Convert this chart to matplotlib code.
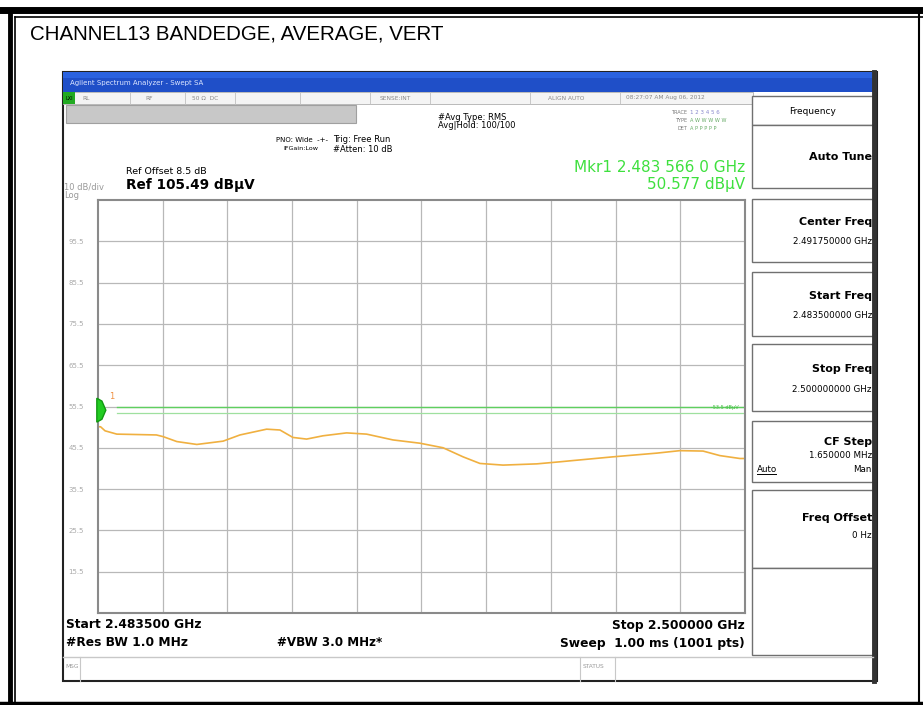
import matplotlib.pyplot as plt
from matplotlib.patches import Rectangle, Polygon

# trace (MHz, dBuV)
freq_mhz = [2483.50, 2483.566, 2483.68, 2483.98, 2484.50, 2484.99, 2485.16, 2485.51,
            2486.02, 2486.69, 2487.12, 2487.80, 2488.14, 2488.47, 2488.82, 2489.24,
            2489.84, 2490.35, 2491.02, 2491.71, 2492.30, 2492.81, 2493.24, 2493.83,
            2494.69, 2495.28, 2495.61, 2496.63, 2497.75, 2498.34, 2498.93, 2499.36,
            2499.87, 2500.00]
level_dbuv = [50.6, 50.577, 49.6, 48.8, 48.7, 48.6, 48.2, 47.0,
              46.3, 47.1, 48.6, 50.0, 49.8, 48.0, 47.6, 48.4,
              49.1, 48.8, 47.4, 46.6, 45.5, 43.3, 41.7, 41.3,
              41.6, 42.1, 42.4, 43.3, 44.2, 44.8, 44.7, 43.6,
              42.9, 42.9]

ref_level = 105.49
db_per_div = 10
start_mhz = 2483.5
stop_mhz = 2500.0
display_lines = [55.3, 54.0]
y_tick_labels = ["95.5", "85.5", "75.5", "65.5", "55.5", "45.5", "35.5", "25.5", "15.5"]

W, H = 923, 705
fig = plt.figure(figsize=(W / 100, H / 100), dpi=100)
plt.rcParams['font.family'] = ['DejaVu Sans']

# background axes in pixel coordinates
bg = fig.add_axes([0, 0, 1, 1])
bg.set_xlim(0, W)
bg.set_ylim(H, 0)
bg.axis('off')

# outer frame
bg.plot([0, W], [10, 10], color='black', lw=5)
bg.plot([10, 10], [10, 703], color='black', lw=3.5)
bg.plot([15, 15], [17, 703], color='black', lw=1.2)
bg.plot([15, W], [17, 17], color='black', lw=1.2)
bg.plot([0, W], [703, 703], color='black', lw=2.5)
bg.plot([919, 919], [10, 703], color='black', lw=1.5)

bg.text(30, 34, "CHANNEL13 BANDEDGE, AVERAGE, VERT", fontsize=14.8,
        family='Liberation Sans', va='center', ha='left')

# screenshot body
bg.add_patch(Rectangle((63, 72), 814, 609, facecolor='white', edgecolor='#222222', lw=1.5))
bg.add_patch(Rectangle((63, 72), 814, 20, facecolor='#1f4fc8', edgecolor='none'))
bg.add_patch(Rectangle((63, 72), 814, 6, facecolor='#2a62e0', edgecolor='none'))
bg.text(70, 83, "Agilent Spectrum Analyzer - Swept SA", fontsize=5, color='#dde6ff',
        va='center')
bg.plot([874, 874], [72, 681], color='#333333', lw=3.5)

# status row
bg.add_patch(Rectangle((63, 92), 690, 12, facecolor='#f4f4f4', edgecolor='#b0b0b0', lw=0.6))
bg.add_patch(Rectangle((63, 92), 12, 12, facecolor='#22aa22', edgecolor='none'))
bg.text(65, 98, "LXI", fontsize=3.5, color='black', va='center')
for x, s in [(82, "RL"), (145, "RF"), (192, "50 Ω  DC"), (380, "SENSE:INT"),
             (548, "ALIGN AUTO"), (626, "08:27:07 AM Aug 06, 2012")]:
    bg.text(x, 98, s, fontsize=4.2, color='#888888', va='center')
for x in [130, 185, 235, 300, 370, 430, 530, 620]:
    bg.plot([x, x], [92, 104], color='#c0c0c0', lw=0.6)
bg.add_patch(Rectangle((66, 105), 290, 18, facecolor='#c8c8c8', edgecolor='#a0a0a0', lw=0.8))

# settings text
bg.text(276, 140, "PNO: Wide  -+-", fontsize=5, va='center')
bg.text(283, 149, "IFGain:Low", fontsize=4.6, va='center')
bg.text(333, 140, "Trig: Free Run", fontsize=6, va='center')
bg.text(333, 149, "#Atten: 10 dB", fontsize=6, va='center')
bg.text(438, 117, "#Avg Type: RMS", fontsize=6, va='center')
bg.text(438, 126, "Avg|Hold: 100/100", fontsize=6, va='center')
bg.text(687, 112, "TRACE", fontsize=3.6, color='#777777', va='center', ha='right')
bg.text(687, 120, "TYPE", fontsize=3.6, color='#777777', va='center', ha='right')
bg.text(687, 128, "DET", fontsize=3.6, color='#777777', va='center', ha='right')
bg.text(690, 112, "1 2 3 4 5 6", fontsize=4, color='#8888cc', va='center')
bg.text(690, 120, "A W W W W W", fontsize=3.6, color='#66aa66', va='center')
bg.text(690, 128, "A P P P P P", fontsize=3.6, color='#66aa66', va='center')

bg.text(126, 172, "Ref Offset 8.5 dB", fontsize=6.8, va='center')
bg.text(126, 185, "Ref 105.49 dBμV", fontsize=9.8, fontweight='bold', va='center')
bg.text(64, 187, "10 dB/div", fontsize=6, color='#999999', va='center')
bg.text(64, 196, "Log", fontsize=6, color='#999999', va='center')
bg.text(745, 167, "Mkr1 2.483 566 0 GHz", fontsize=11, color='#3ee03e', va='center',
        ha='right')
bg.text(745, 184, "50.577 dBμV", fontsize=11, color='#3ee03e', va='center', ha='right')

# bottom annotations
bg.text(66, 625, "Start 2.483500 GHz", fontsize=8.8, fontweight='bold', va='center')
bg.text(66, 643, "#Res BW 1.0 MHz", fontsize=8.8, fontweight='bold', va='center')
bg.text(330, 643, "#VBW 3.0 MHz*", fontsize=8.6, fontweight='bold', va='center', ha='center')
bg.text(745, 625, "Stop 2.500000 GHz", fontsize=8.8, fontweight='bold', va='center', ha='right')
bg.text(745, 643, "Sweep  1.00 ms (1001 pts)", fontsize=8.8, fontweight='bold', va='center',
        ha='right')
bg.plot([63, 873], [657, 657], color='#c8c8c8', lw=1)
bg.plot([80, 80], [657, 681], color='#c8c8c8', lw=0.8)
bg.plot([580, 580], [657, 681], color='#c8c8c8', lw=0.8)
bg.plot([615, 615], [657, 681], color='#c8c8c8', lw=0.8)
bg.text(65, 666, "MSG", fontsize=4.2, color='#999999', va='center')
bg.text(583, 666, "STATUS", fontsize=4.2, color='#999999', va='center')

# soft key panel
panels = [(96, 125), (125, 188), (199, 262), (272, 336), (344, 411), (421, 482), (490, 568)]
for top, bot in panels:
    bg.add_patch(Rectangle((752, top), 121, bot - top, facecolor='white',
                           edgecolor='#707070', lw=1))
bg.add_patch(Rectangle((752, 568), 121, 87, facecolor='white', edgecolor='#707070', lw=1))
bg.text(813, 111, "Frequency", fontsize=6.5, va='center', ha='center')
bg.text(872, 157, "Auto Tune", fontsize=8, fontweight='bold', va='center', ha='right')
bg.text(872, 222, "Center Freq", fontsize=8, fontweight='bold', va='center', ha='right')
bg.text(872, 242, "2.491750000 GHz", fontsize=6.3, va='center', ha='right')
bg.text(872, 296, "Start Freq", fontsize=8, fontweight='bold', va='center', ha='right')
bg.text(872, 316, "2.483500000 GHz", fontsize=6.3, va='center', ha='right')
bg.text(872, 369, "Stop Freq", fontsize=8, fontweight='bold', va='center', ha='right')
bg.text(872, 389, "2.500000000 GHz", fontsize=6.3, va='center', ha='right')
bg.text(872, 442, "CF Step", fontsize=8, fontweight='bold', va='center', ha='right')
bg.text(872, 456, "1.650000 MHz", fontsize=6.3, va='center', ha='right')
bg.text(757, 469, "Auto", fontsize=6.3, va='center', ha='left')
bg.plot([757, 776], [474, 474], color='black', lw=0.7)
bg.text(872, 469, "Man", fontsize=6.3, va='center', ha='right')
bg.text(872, 518, "Freq Offset", fontsize=8, fontweight='bold', va='center', ha='right')
bg.text(872, 535, "0 Hz", fontsize=6.3, va='center', ha='right')

# spectrum plot area
x0, x1, y0, y1 = 98, 745, 200, 613
ax = fig.add_axes([x0 / W, 1 - y1 / H, (x1 - x0) / W, (y1 - y0) / H])
ax.set_xlim(start_mhz, stop_mhz)
ax.set_ylim(ref_level - 10 * db_per_div, ref_level)
span = stop_mhz - start_mhz
ax.set_xticks([start_mhz + span * k / 10 for k in range(1, 10)])
ax.set_yticks([ref_level - db_per_div * k for k in range(1, 10)])
ax.set_yticklabels(y_tick_labels, fontsize=5, color='#aaaaaa')
ax.set_xticklabels([])
ax.tick_params(length=0, pad=10)
ax.grid(True, color='#b8b8b8', lw=0.9)
for sp in ax.spines.values():
    sp.set_color('#8a8a8a')
    sp.set_linewidth(1.5)

ax.axhline(display_lines[0], color='#5fcf5f', lw=1.0, xmin=0.03)
ax.axhline(display_lines[1], color='#9fe09f', lw=0.9, xmin=0.03)
ax.text(stop_mhz - 0.15, display_lines[0], "-53.5 dBμV", fontsize=3.6, color='#40c040',
        va='center', ha='right')
ax.plot(freq_mhz, level_dbuv, color='#f0b040', lw=1.2)

# marker indicator at left edge
ax.add_patch(Polygon([[start_mhz - 0.03, 57.5], [start_mhz + 0.1, 56.8],
                      [start_mhz + 0.2, 54.6], [start_mhz + 0.1, 52.4],
                      [start_mhz - 0.03, 51.7]], closed=True, facecolor='#22cc22',
                     edgecolor='#119911', clip_on=False, zorder=5))
ax.text(start_mhz + 0.28, 57.8, "1", fontsize=6, color='#f09040', va='center')

fig.savefig("out.png", dpi=100)
